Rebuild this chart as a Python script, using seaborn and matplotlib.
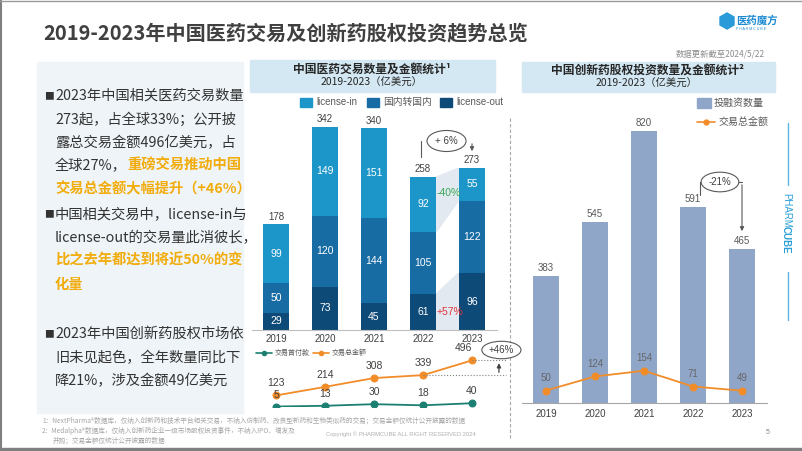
import numpy as np
import pandas as pd
import seaborn as sns
import matplotlib.pyplot as plt
from matplotlib.patches import Rectangle, Polygon

sns.set_style('white')
CJK = ['Noto Sans CJK SC', 'DejaVu Sans']
plt.rcParams['font.family'] = ['Liberation Sans', 'Noto Sans CJK SC', 'DejaVu Sans']

# data
years = ['2019', '2020', '2021', '2022', '2023']
lic_out = [29, 73, 45, 61, 96]
domestic = [50, 120, 144, 105, 122]
lic_in = [99, 149, 151, 92, 55]
deal_total = [123, 214, 308, 339, 496]
upfront = [5, 13, 30, 18, 40]
inv_count = [383, 545, 820, 591, 465]
inv_amount = [50, 124, 154, 71, 49]

C_IN, C_DOM, C_OUT = '#1c96c9', '#176ca4', '#0e4a78'
C_INV = '#8fa6c9'
C_ORANGE = '#f28c28'
C_TEAL = '#1b7f72'
C_TXT = '#404040'
C_HL = '#f2ac0c'

W, H = 802, 451
fig = plt.figure(figsize=(W / 100, H / 100), dpi=100)


def box(x0, y0, x1, y1):
    # pixel box (y measured from the top) -> figure fraction
    return [x0 / W, 1 - y1 / H, (x1 - x0) / W, (y1 - y0) / H]


# background layer in pixel coordinates
bg = fig.add_axes([0, 0, 1, 1])
bg.set_xlim(0, W)
bg.set_ylim(H, 0)
bg.axis('off')

# frame
bg.plot([0.7, 0.7], [0, H], color='#7f7f7f', lw=1.5)
bg.plot([0, W], [0.7, 0.7], color='#9a9a9a', lw=1)
bg.add_patch(Rectangle((0, 447.5), W, 4, color='#7f7f7f'))

# title + logo
bg.text(43, 33, '2019-2023年中国医药交易及创新药股权投资趋势总览', family=CJK,
        fontsize=14.5, fontweight='bold', color='#404040', va='center')
cube = Polygon([(727, 13), (734, 17), (734, 25), (727, 29), (720, 25), (720, 17)],
               closed=True, color='#2a9ad8')
bg.add_patch(cube)
bg.text(736, 20, '医药魔方', family=CJK, fontsize=7.5, fontweight='bold',
        color='#1b8ad3', va='center')
bg.text(736, 29, 'P H A R M C U B E', fontsize=2.6, color='#1b8ad3', va='center')
bg.text(765, 54, '数据更新截至2024/5/22', family=CJK, fontsize=6, color='#8c8c8c',
        ha='right', va='center', style='italic')

# left text panel
bg.add_patch(Rectangle((37, 62), 206, 351, color='#eef4f8', zorder=0))
FS = 10.3


def text_line(y, parts, bullet=False):
    if bullet:
        bg.text(44, y, '■', family=CJK, fontsize=7, color='#333333', va='center')
    prev = None
    for txt, hl in parts:
        kw = dict(family=CJK, fontsize=FS, color=C_HL if hl else '#333333',
                  fontweight='bold' if hl else 'normal')
        if prev is None:
            prev = bg.text(55, y, txt, va='center', **kw)
        else:
            prev = bg.annotate(txt, xy=(1, 0), xycoords=prev, va='bottom', **kw)


text_line(96, [('2023年中国相关医药交易数量', False)], bullet=True)
text_line(120, [('273起，占全球33%；公开披', False)])
text_line(143, [('露总交易金额496亿美元，占', False)])
text_line(166, [('全球27%，', False), ('重磅交易推动中国', True)])
text_line(189, [('交易总金额大幅提升（+46%）', True)])
text_line(214, [('中国相关交易中，license-in与', False)], bullet=True)
text_line(238, [('license-out的交易量此消彼长，', False)])
text_line(261, [('比之去年都达到将近50%的变', True)])
text_line(285, [('化量', True)])
text_line(334, [('2023年中国创新药股权市场依', False)], bullet=True)
text_line(358, [('旧未见起色，全年数量同比下', False)])
text_line(381, [('降21%，涉及金额49亿美元', False)])

# chart headers
bg.add_patch(Rectangle((250, 60), 245, 32, color='#d4e8f3', zorder=0))
bg.text(372, 69, '中国医药交易数量及金额统计¹', family=CJK, fontsize=8.5,
        fontweight='bold', color='#262626', ha='center', va='center')
bg.text(372, 83, '2019-2023（亿美元）', family=CJK, fontsize=7.5, color='#262626',
        ha='center', va='center')
bg.add_patch(Rectangle((522, 62), 253, 30, color='#d4e8f3', zorder=0))
bg.text(647, 70, '中国创新药股权投资数量及金额统计²', family=CJK, fontsize=8.5,
        fontweight='bold', color='#262626', ha='center', va='center')
bg.text(647, 84, '2019-2023（亿美元）', family=CJK, fontsize=7.5, color='#262626',
        ha='center', va='center')

# middle legend
for x, c, lab in [(300, C_IN, 'license-in'), (367, C_DOM, '国内转国内'), (440, C_OUT, 'license-out')]:
    bg.add_patch(Rectangle((x, 97.5), 12, 9, color=c))
    bg.text(x + 16, 102, lab, fontsize=7, color='#595959', va='center')

# right legend
bg.add_patch(Rectangle((697, 98), 14, 10, color=C_INV))
bg.text(714, 103, '投融资数量', fontsize=7.2, color='#595959', va='center')
bg.plot([697, 715], [122, 122], color=C_ORANGE, lw=1.2)
bg.plot([706], [122], 'o', color=C_ORANGE, ms=3.5)
bg.text(719, 122, '交易总金额', fontsize=7.2, color='#595959', va='center')

# lower legend of middle chart
bg.plot([256, 272], [353, 353], color=C_TEAL, lw=1.2)
bg.plot([264], [353], 'o', color=C_TEAL, ms=3)
bg.text(275, 353, '交易首付款', fontsize=5, color='#595959', va='center')
bg.plot([313, 329], [353, 353], color=C_ORANGE, lw=1.2)
bg.plot([321], [353], 'o', color=C_ORANGE, ms=3)
bg.text(332, 353, '交易总金额', fontsize=5, color='#595959', va='center')

# dashed separator
bg.plot([510, 510], [118, 440], color='#a6a6a6', lw=0.8, ls=(0, (3, 2)))

# PHARMCUBE side mark
bg.plot([788, 788], [123, 185], color='#5bb5e0', lw=1)
bg.plot([788, 788], [272, 320], color='#5bb5e0', lw=1)
bg.text(786, 193, 'PHARM', fontsize=7, color='#2a9fd6', rotation=-90, ha='center', va='top')
bg.text(786, 226, 'CUBE', fontsize=7, color='#2a9fd6', fontweight='bold',
        rotation=-90, ha='center', va='top')

# footnotes
FN = '#a6a6a6'
bg.text(42, 421, '1：NextPharma®数据库，仅纳入创新药和技术平台相关交易，不纳入仿制药、改良型新药和生物类似药的交易；交易金额仅统计公开披露的数据',
        family=CJK, fontsize=4.8, color=FN, va='center')
bg.text(42, 431, '2：Medalpha®数据库，仅纳入创新药企业一级市场股权投资事件，不纳入IPO、增发及',
        family=CJK, fontsize=4.8, color=FN, va='center')
bg.text(53, 441, '并购；交易金额仅统计公开披露的数据', family=CJK, fontsize=4.8, color=FN, va='center')
bg.text(401, 434, 'Copyright © PHARMCUBE ALL RIGHT RESERVED 2024', fontsize=4.2,
        color='#b0b0b0', ha='center', va='center')
bg.text(768, 433, '5', fontsize=5, color='#808080', ha='center', va='center')

# ---------- middle: stacked deal counts ----------
df = pd.DataFrame({'year': years, 'out': lic_out, 'dom': domestic, 'lin': lic_in})
df['s2'] = df['out'] + df['dom']
df['s3'] = df['s2'] + df['lin']

PX1 = 0.593
ax1 = fig.add_axes(box(251.5, 330 - 400 * PX1, 496.5, 330))
ax1.patch.set_alpha(0)
for col, c in [('s3', C_IN), ('s2', C_DOM), ('out', C_OUT)]:
    sns.barplot(data=df, x='year', y=col, color=c, saturation=1, width=0.55,
                linewidth=0, edgecolor='none', ax=ax1)
ax1.set_xlim(-0.5, 4.5)
ax1.set_ylim(0, 400)
sns.despine(ax=ax1, left=True)
ax1.spines['bottom'].set_color('#bfbfbf')
ax1.spines['bottom'].set_linewidth(0.8)
ax1.set_yticks([])
ax1.set_xlabel('')
ax1.set_ylabel('')
ax1.tick_params(axis='x', length=0, pad=3.2, labelsize=7, labelcolor=C_TXT)

# change connectors 2022 -> 2023
x0, x1 = 3 + 0.275, 4 - 0.275
ax1.add_patch(Polygon([(x0, df.s2[3]), (x1, df.s2[4]), (x1, df.s3[4]), (x0, df.s3[3])],
                      closed=True, color='#e2e9f0', zorder=0))
ax1.add_patch(Polygon([(x0, 0), (x1, 0), (x1, df.out[4]), (x0, df.out[3])],
                      closed=True, color='#e2e9f0', zorder=0))
ax1.text(3.52, (330 - 193) / PX1, '-40%', color='#3aa757', fontsize=7.5, ha='center', va='center')
ax1.text(3.55, (330 - 312) / PX1, '+57%', color='#e5323b', fontsize=7.5, ha='center', va='center')

for i in range(5):
    o, d, l = lic_out[i], domestic[i], lic_in[i]
    for yv, v in [(o / 2, o), (o + d / 2, d), (o + d + l / 2, l)]:
        ax1.text(i, yv, str(v), color='white', fontsize=7.5, ha='center', va='center')
    ax1.annotate(str(o + d + l), (i, o + d + l), xytext=(0, 2), textcoords='offset points',
                 ha='center', va='bottom', fontsize=7, color=C_TXT)

# +6% bracket
yb = (330 - 141) / PX1
ax1.plot([2.96, 2.96], [(330 - 157) / PX1, yb], color='#595959', lw=0.8, clip_on=False)
ax1.annotate('', xy=(4.0, (330 - 154) / PX1), xytext=(4.0, yb),
             arrowprops=dict(arrowstyle='-|>', color='#595959', lw=0.8, mutation_scale=6),
             annotation_clip=False)
ax1.text(3.48, yb, '+ 6%', fontsize=7, color=C_TXT, ha='center', va='center',
         bbox=dict(boxstyle='ellipse,pad=0.25', fc='white', ec='#595959', lw=0.8))

# ---------- middle: deal amounts ----------
PX2 = 0.094
ax2 = fig.add_axes(box(251.5, 407 - 600 * PX2, 496.5, 407))
ax2.patch.set_alpha(0)
xs = np.arange(5)
sns.lineplot(x=xs, y=deal_total, color=C_ORANGE, marker='o', markersize=5, mec=C_ORANGE,
             linewidth=1.3, ax=ax2)
sns.lineplot(x=xs, y=upfront, color=C_TEAL, marker='o', markersize=5, mec=C_TEAL,
             linewidth=1.3, ax=ax2)
ax2.set_xlim(-0.5, 4.5)
ax2.set_ylim(0, 600)
ax2.axis('off')
for i in range(5):
    dx = -6 if i == 4 else 0
    ax2.annotate(str(deal_total[i]), (i, deal_total[i]), xytext=(dx, 5), textcoords='offset points',
                 ha='center', va='bottom', fontsize=7.5, color=C_TXT)
    ax2.annotate(str(upfront[i]), (i, upfront[i]), xytext=(0, 5), textcoords='offset points',
                 ha='center', va='bottom', fontsize=7.5, color=C_TXT)
ax2.plot([4, 4.7], [496, 496], color='#808080', lw=0.8, ls=':', clip_on=False)
ax2.plot([3, 4.7], [339, 339], color='#808080', lw=0.8, ls=':', clip_on=False)
ax2.annotate('', xy=(4.55, 496), xytext=(4.55, 339),
             arrowprops=dict(arrowstyle='-|>', color='#404040', lw=0.9, mutation_scale=6),
             annotation_clip=False)
ax2.text(4.6, (407 - 350) / PX2, '+46%', fontsize=7, color=C_TXT, ha='center', va='center',
         bbox=dict(boxstyle='ellipse,pad=0.12', fc='white', ec='#595959', lw=0.8), clip_on=False)

# ---------- right: equity investment ----------
PX3 = 0.332
ax3 = fig.add_axes(box(521.5, 403 - 900 * PX3, 766.5, 403))
ax3.patch.set_alpha(0)
sns.barplot(x=years, y=inv_count, color=C_INV, saturation=1, width=0.55,
            linewidth=0, edgecolor='none', ax=ax3)
ax3.set_xlim(-0.5, 4.5)
ax3.set_ylim(0, 900)
sns.despine(ax=ax3, left=True)
ax3.spines['bottom'].set_color('#a6a6a6')
ax3.set_yticks([])
ax3.tick_params(axis='x', length=0, pad=4, labelsize=7, labelcolor=C_TXT)
for i, v in enumerate(inv_count):
    ax3.annotate(str(v), (i, v), xytext=(0, 2), textcoords='offset points',
                 ha='center', va='bottom', fontsize=7, color='#595959')

# -21% bracket
yb = (403 - 182) / PX3
ax3.plot([3.14, 3.14], [(403 - 195) / PX3, yb], color='#595959', lw=0.8, clip_on=False)
ax3.plot([3.14, 4.0], [yb, yb], color='#595959', lw=0.8, clip_on=False)
ax3.annotate('', xy=(4.0, (403 - 234) / PX3), xytext=(4.0, yb),
             arrowprops=dict(arrowstyle='-|>', color='#595959', lw=0.8, mutation_scale=6),
             annotation_clip=False)
ax3.text(3.55, yb, '-21%', fontsize=7, color=C_TXT, ha='center', va='center',
         bbox=dict(boxstyle='ellipse,pad=0.2', fc='white', ec='#595959', lw=0.8))

PX4 = 0.19
ax4 = fig.add_axes(box(521.5, 400 - 500 * PX4, 766.5, 400))
ax4.patch.set_alpha(0)
sns.lineplot(x=xs, y=inv_amount, color=C_ORANGE, marker='o', markersize=5, mec=C_ORANGE,
             linewidth=1.3, ax=ax4)
ax4.set_xlim(-0.5, 4.5)
ax4.set_ylim(0, 500)
ax4.axis('off')
for i, v in enumerate(inv_amount):
    ax4.annotate(str(v), (i, v), xytext=(0, 5.5), textcoords='offset points',
                 ha='center', va='bottom', fontsize=7, color='#666666')

fig.savefig('out.png', dpi=100)
